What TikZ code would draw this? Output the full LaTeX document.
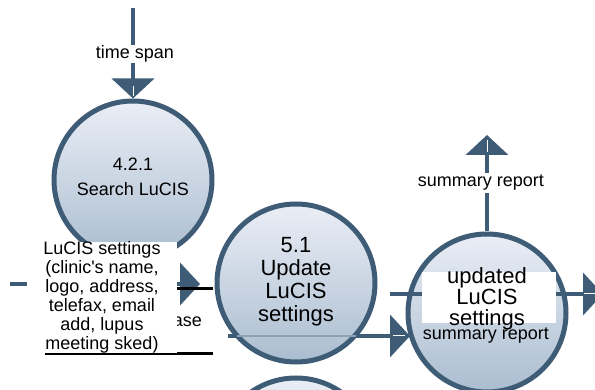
\documentclass[tikz,border=0pt]{standalone}
\usepackage{fontspec}
\setmainfont{Liberation Sans}[Ligatures=TeXOff]
\usetikzlibrary{arrows.meta}
\definecolor{edgec}{RGB}{62,92,118}
\definecolor{ctop}{RGB}{234,238,246}
\definecolor{cbot}{RGB}{170,189,208}
\definecolor{faint}{RGB}{140,160,182}
\tikzset{
  proc/.style={circle, draw=edgec, line width=5pt, top color=ctop, bottom color=cbot,
    minimum size=158pt, inner sep=0pt, align=center},
  flow/.style={draw=edgec, line width=4pt, -{Triangle[length=20pt,width=42pt]}},
  lbl/.style={font=\fontsize{18}{19}\selectfont, fill=white, inner sep=2pt, align=center},
  bigtxt/.style={font=\fontsize{22}{23}\selectfont, align=center},
  storeline/.style={draw=black, line width=3pt},
  streak/.style={draw=white, line width=1pt}
}
\begin{document}
\begin{tikzpicture}[x=1pt,y=-1pt]
\useasboundingbox (0,0) rectangle (595,390);

% processes (drawn first)
\node[proc] (c1) at (133,180) {};
\node[proc] (c3) at (487,313) {};
\node[proc] (c4) at (296,457) {};

% flow into process 1
\coordinate (ts) at (133,8);
\draw[flow] (ts) -- (c1.north);
\node[lbl, inner sep=1pt] (tslbl) at (135,54) {time span};

% summary report upwards
\coordinate (srtop) at (487,135);
\draw[flow] (c3.north) -- (srtop);
\node[lbl] (srlbl) at (481,183) {summary report};

% summary report into process 3 (passes behind process 2)
\coordinate (sr1) at (228,336);
\coordinate (sr2) at (410,336);
\draw[flow] (sr1) -- (sr2);

% process 2
\node[proc] (c2) at (296,283) {};
\coordinate (fa) at (237,336);
\coordinate (fb) at (356,336);
\draw[draw=faint, line width=1.5pt] (fa) -- (fb);
\node[bigtxt] (c2t) at (296,282) {5.1\\Update\\LuCIS\\settings};

% process 1 text
\node[font=\fontsize{18}{25}\selectfont, align=center] (c1t) at (133,177) {4.2.1\\Search LuCIS};

% updated settings flow through process 3
\coordinate (u1) at (390,294);
\coordinate (u2) at (603,294);
\draw[flow] (u1) -- (u2);

% flow from the left
\coordinate (l1) at (10,284);
\coordinate (l2) at (200,284);
\draw[flow] (l1) -- (l2);

% data store
\coordinate (d1) at (45,289);
\coordinate (d2) at (213,289);
\coordinate (d3) at (45,354);
\coordinate (d4) at (213,354);
\draw[storeline] (d1) -- (d2);
\draw[storeline] (d3) -- (d4);
\node[font=\fontsize{18}{19}\selectfont, anchor=east, inner sep=0pt] (dsl) at (202,320) {database};

% settings label box
\node[lbl, minimum width=150pt, minimum height=109pt, inner sep=0pt] (setlbl) at (102,297.5)
  {LuCIS settings\\(clinic's name,\\logo, address,\\telefax, email\\add, lupus\\meeting sked)};

% updated LuCIS settings label
\node[fill=white, minimum width=134pt, minimum height=51pt, inner sep=0pt] (ubox) at (489,297.5) {};
\node[bigtxt, font=\fontsize{22}{21}\selectfont] (ulbl) at (487,299) {updated\\LuCIS\\settings};
\node[font=\fontsize{18}{19}\selectfont, inner sep=0pt] (sr2lbl) at (486,336) {summary report};

% white streaks in arrowheads
\draw[streak] (133,86) -- (133,96);
\draw[streak] (487,140) -- (487,152);
\draw[streak] (584,294) -- (595,294);
\draw[streak] (393,336) -- (405,336);
\end{tikzpicture}
\end{document}
